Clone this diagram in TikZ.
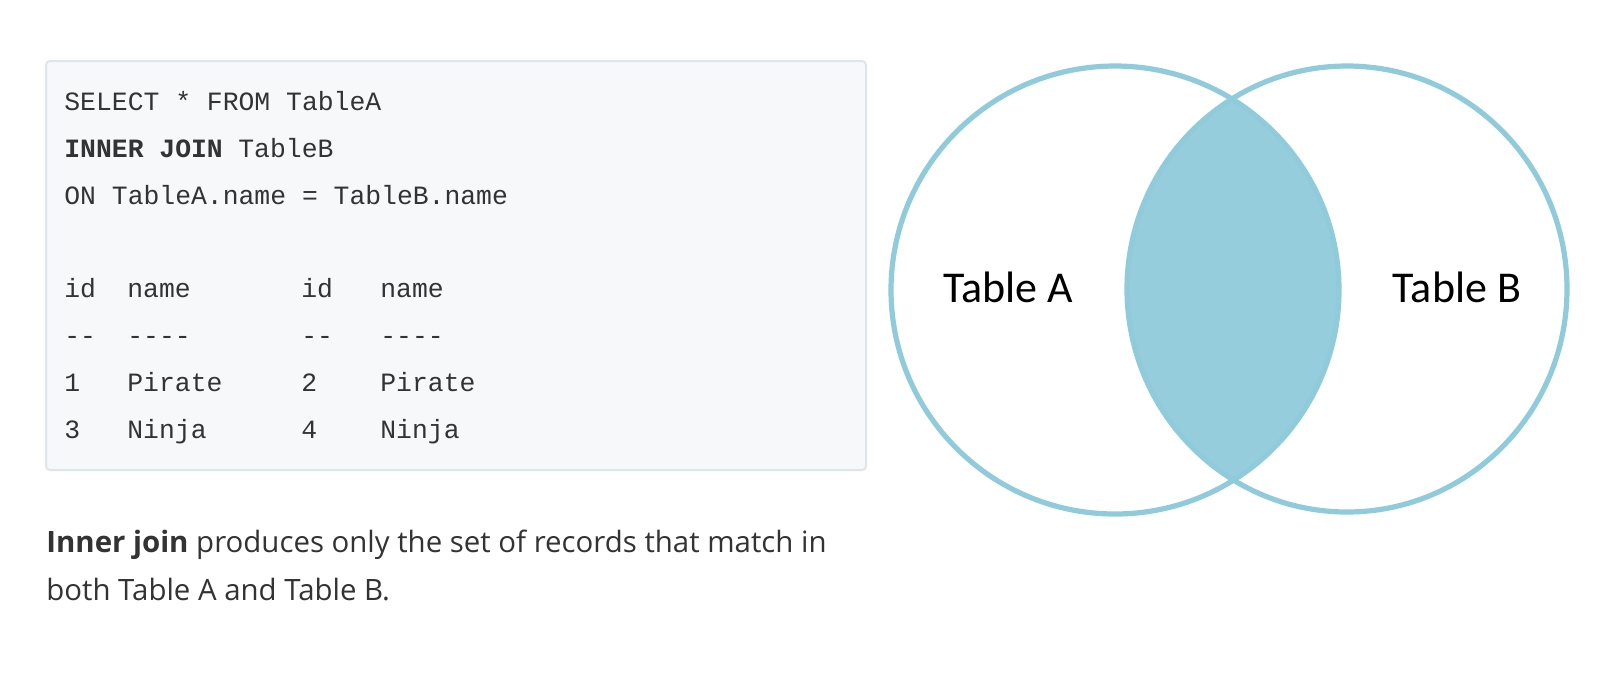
\documentclass[tikz,border=0pt]{standalone}
\usepackage{fontspec}
\setmainfont{Open Sans}
\newfontfamily\codefont{Liberation Mono}
\newfontfamily\venfont{Carlito}
\definecolor{codebg}{RGB}{246,248,250}
\definecolor{codeborder}{RGB}{222,230,236}
\definecolor{txt}{RGB}{51,51,51}
\definecolor{vline}{RGB}{143,203,219}
\definecolor{vfill}{RGB}{150,205,220}
\begin{document}
\begin{tikzpicture}[x=0.5pt,y=-0.5pt,
  codeline/.style={anchor=base west,inner sep=0pt,text=txt,font=\codefont\fontsize{13.2pt}{15pt}\selectfont},
  venlabel/.style={anchor=center,inner sep=0pt,text=black,font=\venfont\fontsize{22pt}{26pt}\selectfont},
  prose/.style={anchor=base west,inner sep=0pt,text=txt,font=\fontsize{14.7pt}{17pt}\selectfont}]
\useasboundingbox (0,0) rectangle (1600,693);
\fill[white] (0,0) rectangle (1600,693);
% code box
\draw[codeborder,fill=codebg,line width=1pt,rounded corners=2pt] (46,61) rectangle (866,470);
\node[codeline] (l1) at (64,110.5) {SELECT * FROM TableA};
\node[codeline] (l2a) at (64,157.3) {\bfseries INNER JOIN};
\node[codeline] (l2b) at (238,157.3) {TableB};
\node[codeline] (l3) at (64,204.1) {ON TableA.name = TableB.name};
\node[codeline] (h1) at (64,297.7) {id};
\node[codeline] (h2) at (127,297.7) {name};
\node[codeline] (h3) at (301,297.7) {id};
\node[codeline] (h4) at (380,297.7) {name};
\node[codeline] (d1) at (64,344.5) {-{}-};
\node[codeline] (d2) at (127,344.5) {-{}-{}-{}-};
\node[codeline] (d3) at (301,344.5) {-{}-};
\node[codeline] (d4) at (380,344.5) {-{}-{}-{}-};
\node[codeline] (r1a) at (64,391.3) {1};
\node[codeline] (r1b) at (127,391.3) {Pirate};
\node[codeline] (r1c) at (301,391.3) {2};
\node[codeline] (r1d) at (380,391.3) {Pirate};
\node[codeline] (r2a) at (64,438.1) {3};
\node[codeline] (r2b) at (127,438.1) {Ninja};
\node[codeline] (r2c) at (301,438.1) {4};
\node[codeline] (r2d) at (380,438.1) {Ninja};
% venn
\coordinate (ca) at (1115,290);
\coordinate (cb) at (1347,289);
\begin{scope}
  \clip (ca) circle [radius=224];
  \fill[vfill] (cb) ellipse [x radius=220, y radius=223];
\end{scope}
\draw[vline,line width=2.6pt] (ca) circle [radius=224];
\draw[vline,line width=2.6pt] (cb) ellipse [x radius=220, y radius=223];
\node[venlabel] (ta) at (1008,287) {Table A};
\node[venlabel] (tb) at (1457,287) {Table B};
% prose
\node[prose] (p1) at (46,552) {\textbf{Inner join} produces only the set of records that match in};
\node[prose] (p2) at (46,600) {both Table A and Table B.};
\end{tikzpicture}
\end{document}
